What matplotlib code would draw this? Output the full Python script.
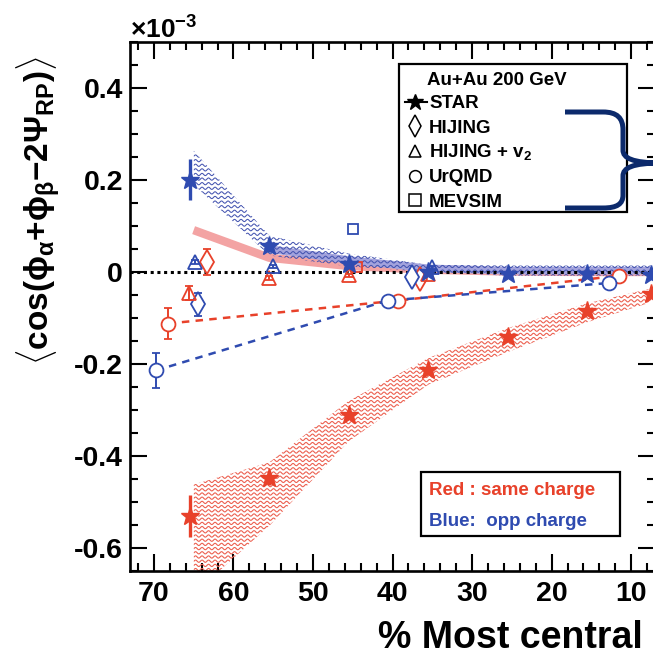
import matplotlib
matplotlib.use('Agg')
import matplotlib.pyplot as plt
import numpy as np
from matplotlib.patches import Polygon, Rectangle, PathPatch
from matplotlib.path import Path
from matplotlib.collections import LineCollection
from matplotlib.lines import Line2D
from matplotlib.ticker import FixedLocator, FixedFormatter, MultipleLocator
from matplotlib.transforms import Affine2D

plt.rcParams['font.family'] = ['Liberation Sans', 'DejaVu Sans']
plt.rcParams['font.weight'] = 'bold'
plt.rcParams['axes.unicode_minus'] = False
plt.rcParams['mathtext.fontset'] = 'custom'
plt.rcParams['mathtext.rm'] = 'Liberation Sans'
plt.rcParams['mathtext.bf'] = 'Liberation Sans:bold'
plt.rcParams['mathtext.it'] = 'Liberation Sans'

# ---------------- data (units of 1e-3) ----------------
star_x = [65.5, 55.5, 45.5, 35.5, 25.5, 15.5, 7.5]
star_same = [-0.530, -0.447, -0.310, -0.213, -0.142, -0.085, -0.047]
star_same_err = [0.046, 0.015, 0.008, 0.006, 0.005, 0.005, 0.005]
star_opp = [0.201, 0.057, 0.018, 0.000, -0.005, -0.005, -0.006]
star_opp_err = [0.044, 0.014, 0.006, 0.004, 0.003, 0.003, 0.003]

band_x = [65.0, 55.5, 45.5, 35.5, 25.5, 15.5, 7.5]
same_band_hi = [-0.462, -0.414, -0.280, -0.187, -0.122, -0.068, -0.036]
same_band_lo = [-0.700, -0.552, -0.368, -0.245, -0.174, -0.109, -0.066]
opp_band_hi = [0.264, 0.079, 0.040, 0.016, 0.014, 0.014, 0.014]
opp_band_lo = [0.190, 0.036, 0.012, 0.000, -0.008, -0.008, -0.008]

pink_x = [65.0, 55.5, 45.5, 35.5, 25.5, 15.5, 7.5]
pink_y = [0.091, 0.031, 0.013, 0.005, 0.001, 0.000, 0.000]
lav_x = [55.5, 45.5, 35.5, 25.5, 15.5, 7.5]
lav_y = [0.050, 0.026, 0.008, 0.003, 0.003, 0.003]

hij_same_x = [63.3, 36.5]
hij_same = [0.021, -0.015]
hij_same_err = [0.028, 0.004]
hij_opp_x = [64.5, 37.6]
hij_opp = [-0.070, -0.011]
hij_opp_err = [0.025, 0.004]

hv2_same_x = [65.6, 55.5, 45.5, 35.5]
hv2_same = [-0.046, -0.013, -0.007, -0.004]
hv2_same_err = [0.015, 0.004, 0.003, 0.003]
hv2_opp_x = [64.8, 55.0, 35.0]
hv2_opp = [0.021, 0.012, 0.010]
hv2_opp_err = [0.004, 0.003, 0.003]

urq_same_x = [68.2, 39.3, 11.5]
urq_same = [-0.112, -0.062, -0.008]
urq_same_err = [0.034, 0.004, 0.004]
urq_opp_x = [69.75, 40.6, 12.8]
urq_opp = [-0.214, -0.062, -0.024]
urq_opp_err = [0.038, 0.004, 0.004]

mev_same_x = [44.5]
mev_same = [0.010]
mev_opp_x = [45.0]
mev_opp = [0.094]

xticks = [70, 60, 50, 40, 30, 20, 10]
xtick_labels = ['70', '60', '50', '40', '30', '20', '10']
yticks = [-0.6, -0.4, -0.2, 0.0, 0.2, 0.4]
ytick_labels = ['-0.6', '-0.4', '-0.2', '0', '0.2', '0.4']

legend_title = 'Au+Au 200 GeV'
legend_labels = ['STAR', 'HIJING', r'HIJING + v$_\mathbf{2}$', 'UrQMD', 'MEVSIM']
legend_markers = ['*', 'd', '^', 'o', 's']

# ---------------- style ----------------
RED = '#E8412A'
BLUE = '#2F4BB0'
RED_WAVE = '#EC6050'
BLUE_WAVE = '#4454B0'
PINK = '#F3A3A3'
LAV = '#A3A3DD'
NAVY = '#0C2A6C'

W, H = 653, 657
fig = plt.figure(figsize=(W / 100, H / 100), dpi=100)
tpx = Affine2D().scale(1 / W, -1 / H).translate(0, 1) + fig.transFigure

ax = fig.add_axes([130 / W, 1 - 571 / H, (655 - 130) / W, (571 - 42) / H])
XL, XR = 73, 7
YB, YT = -0.65, 0.5
ax.set_xlim(XL, XR)
ax.set_ylim(YB, YT)
xpx = (655 - 130) / (XL - XR)
ypx = (571 - 42) / (YT - YB)


def wave_band(x, lo, hi, color, spacing=4.2, wl=6.5, amp=1.1, lw=0.8, z=2):
    x = np.asarray(x, float)
    lo = np.asarray(lo, float)
    hi = np.asarray(hi, float)
    verts = np.concatenate([np.column_stack([x, hi]),
                            np.column_stack([x[::-1], lo[::-1]])])
    poly = Polygon(verts, closed=True, fc='none', ec='none', transform=ax.transData)
    ax.add_patch(poly)
    xs = np.linspace(x.min(), x.max(), 3000)
    offsets = np.arange(lo.min() - 0.02, hi.max() + 0.02, spacing / ypx)
    wave = amp / ypx * np.sin(2 * np.pi * xs * xpx / wl)
    segs = [np.column_stack([xs, y0 + wave]) for y0 in offsets]
    lc = LineCollection(segs, colors=color, linewidths=lw, zorder=z)
    ax.add_collection(lc, autolim=False)
    lc.set_clip_path(poly)


# bands
wave_band(band_x, same_band_lo, same_band_hi, RED_WAVE)
ax.plot(pink_x, pink_y, color=PINK, lw=6, solid_capstyle='butt', zorder=2.5)
ax.plot(lav_x, lav_y, color=LAV, lw=5.5, solid_capstyle='butt', zorder=2.6)
wave_band(band_x, opp_band_lo, opp_band_hi, BLUE_WAVE, spacing=4.6, lw=0.75, z=2.7)

# zero line
ax.axhline(0, color='black', lw=2.2, ls=(0, (1, 1.2)), zorder=2.8)

# UrQMD dashed lines
ax.plot(urq_same_x, urq_same, color=RED, lw=1.8, ls=(0, (3, 2.5)), zorder=3)
ax.plot(urq_opp_x, urq_opp, color=BLUE, lw=1.8, ls=(0, (3, 2.5)), zorder=3)


def model(x, y, e, marker, color, ms, mfc='white'):
    ax.errorbar(x, y, yerr=e, fmt=marker, ms=ms, mfc=mfc, mec=color, mew=1.3,
                ecolor=color, elinewidth=1.4, capsize=3, capthick=1.4, zorder=4)


model(urq_same_x, urq_same, urq_same_err, 'o', RED, 10)
model(urq_opp_x, urq_opp, urq_opp_err, 'o', BLUE, 10)
model(hij_same_x, hij_same, hij_same_err, 'd', RED, 12)
model(hij_opp_x, hij_opp, hij_opp_err, 'd', BLUE, 12)
model(hv2_same_x, hv2_same, hv2_same_err, '^', RED, 10.5, mfc='none')
model(hv2_opp_x, hv2_opp, hv2_opp_err, '^', BLUE, 10.5, mfc='none')
ax.plot(mev_same_x, mev_same, 's', ms=7, mfc='none', mec=RED, mew=1.3, zorder=4)
ax.plot(mev_opp_x, mev_opp, 's', ms=7, mfc='none', mec=BLUE, mew=1.3, zorder=4)

# STAR
ax.errorbar(star_x, star_same, yerr=star_same_err, fmt='*', ms=14, color=RED,
            mec=RED, elinewidth=2.4, capsize=0, zorder=5)
ax.errorbar(star_x, star_opp, yerr=star_opp_err, fmt='*', ms=14, color=BLUE,
            mec=BLUE, elinewidth=2.4, capsize=0, zorder=5)

# axes styling
for s in ax.spines.values():
    s.set_linewidth(1.9)
ax.xaxis.set_major_locator(FixedLocator(xticks))
ax.xaxis.set_major_formatter(FixedFormatter(xtick_labels))
ax.xaxis.set_minor_locator(MultipleLocator(2))
ax.yaxis.set_major_locator(FixedLocator(yticks))
ax.yaxis.set_major_formatter(FixedFormatter(ytick_labels))
ax.yaxis.set_minor_locator(MultipleLocator(0.05))
ax.tick_params(which='both', direction='in', top=True, right=True, width=1.5)
ax.tick_params(which='major', length=12, labelsize=20.5)
ax.tick_params(which='minor', length=6)
ax.tick_params(axis='x', pad=7)
ax.tick_params(axis='y', pad=5)
for lab in ax.get_xticklabels() + ax.get_yticklabels():
    lab.set_fontweight('bold')

# exponent label
fig.text(130, 39, r'$\times10^{-3}$', transform=tpx, fontsize=19,
         ha='left', va='baseline', fontweight='normal')

# axis labels
fig.text(38, 211,
         r'$\langle\mathbf{cos(}\phi_{\alpha}\mathbf{+}\phi_{\beta}\mathbf{-2}\Psi_{\mathbf{RP}}\mathbf{)}\rangle$',
         transform=tpx, rotation=90, fontsize=24, ha='center', va='center')
fig.text(378, 656, '% Most central', transform=tpx, fontsize=27,
         fontweight='bold', ha='left', va='bottom')

# legend box 1
fig.add_artist(Rectangle((399, 63.5), 627 - 399, 211.5 - 63.5, transform=tpx,
                         fill=True, fc='white', ec='black', lw=1.6, zorder=10))
fig.text(427, 85, legend_title, transform=tpx, fontsize=13.5, fontweight='bold',
         ha='left', va='baseline', zorder=11)
for i, (lab, mk) in enumerate(zip(legend_labels, legend_markers)):
    yb = 108.3 + i * 24.6
    ym = yb - 6.5
    if mk == '*':
        fig.add_artist(Line2D([405, 427], [ym, ym], transform=tpx, color='black',
                              lw=1.5, zorder=11))
        fig.add_artist(Line2D([415], [ym], transform=tpx, marker='*', ms=12,
                              color='black', zorder=12))
    else:
        ms = {'d': 11, '^': 9, 'o': 8.5, 's': 8}[mk]
        fig.add_artist(Line2D([415], [ym], transform=tpx, marker=mk, ms=ms,
                              mfc='none', mec='black', mew=1.1, zorder=12))
    fig.text(429, yb, lab, transform=tpx, fontsize=13.5, fontweight='bold',
             ha='left', va='baseline', zorder=11)

# brace
bv = [(565, 112), (603, 112), (617, 112), (623, 118), (623, 130), (623, 150),
      (623, 158), (632, 163), (662, 163), (632, 163), (623, 168), (623, 176),
      (623, 195), (623, 204), (617, 208), (603, 208), (565, 208)]
bc = [Path.MOVETO, Path.LINETO, Path.CURVE4, Path.CURVE4, Path.CURVE4, Path.LINETO,
      Path.CURVE4, Path.CURVE4, Path.CURVE4, Path.CURVE4, Path.CURVE4, Path.CURVE4,
      Path.LINETO, Path.CURVE4, Path.CURVE4, Path.CURVE4, Path.LINETO]
fig.add_artist(PathPatch(Path(bv, bc), transform=tpx, fill=False, ec=NAVY,
                         lw=3.6, zorder=13, capstyle='butt'))

# legend box 2
fig.add_artist(Rectangle((421, 472), 619.5 - 421, 536 - 472, transform=tpx,
                         fill=True, fc='white', ec='black', lw=1.6, zorder=10))
fig.text(429, 495, 'Red : same charge', transform=tpx, fontsize=13.5,
         fontweight='bold', color=RED, ha='left', va='baseline', zorder=11)
fig.text(429, 526, 'Blue:  opp charge', transform=tpx, fontsize=13.5,
         fontweight='bold', color=BLUE, ha='left', va='baseline', zorder=11)

fig.savefig('out.png', dpi=100)
